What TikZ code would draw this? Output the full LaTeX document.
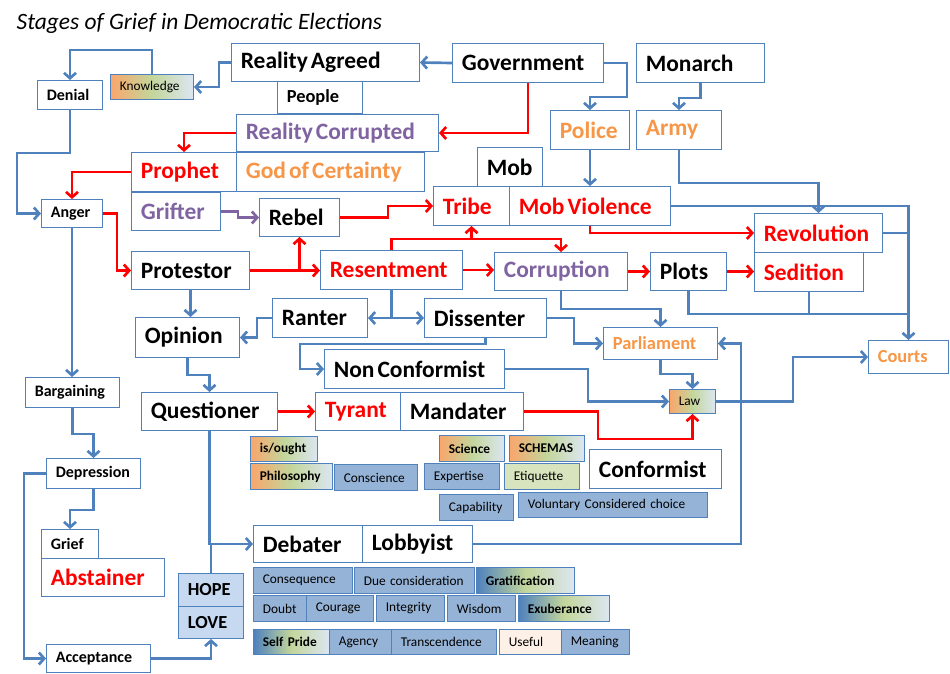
\documentclass[tikz,border=0pt]{standalone}
\usepackage{fontspec}
\setmainfont{Carlito}
\usepackage{xcolor}
\usepackage{tikz}
\usetikzlibrary{arrows.meta,positioning,calc}

\definecolor{edge}{HTML}{4F81BD}
\definecolor{grred}{HTML}{FF0000}
\definecolor{grpurple}{HTML}{8064A2}
\definecolor{grorange}{HTML}{F79646}
\definecolor{cellblue}{HTML}{95B3D7}
\definecolor{hopeblue}{HTML}{C6D9F1}
\definecolor{palepeach}{HTML}{FDF1E7}
\definecolor{shorange}{HTML}{F9A66C}
\definecolor{shgreen}{HTML}{C3D69B}
\definecolor{shlight}{HTML}{DCE6F2}
\definecolor{shblue}{HTML}{4F81BD}
\definecolor{leafgreen}{HTML}{D7E4BD}
\newcommand\tightwords{\spaceskip=0.13em\relax}

\begin{document}
\begin{tikzpicture}[
    x=0.75pt, y=-0.75pt,
    box/.style={rectangle, draw=edge, line width=0.75pt, fill=white, anchor=north west, inner xsep=7pt, inner ysep=0pt},
    wh/.style 2 args={text width={0.75pt*#1-14pt}, minimum height={0.75pt*#2}},
    bigtext/.style={font=\fontsize{17.6}{20}\selectfont\bfseries, execute at begin node=\tightwords},
    midtext/.style={font=\fontsize{13.8}{16}\selectfont\bfseries},
    smalltext/.style={font=\fontsize{12}{14}\selectfont\bfseries},
    tinytext/.style={font=\fontsize{10}{12}\selectfont},
    tinybold/.style={font=\fontsize{10}{12}\selectfont\bfseries},
    cell/.style={box, tinytext, fill=cellblue},
    warm/.style={box, left color=shorange, right color=shlight, middle color=shgreen},
    cool/.style={box, left color=shblue, right color=shlight, middle color=shgreen},
    line/.style={draw=edge, line width=2pt, -{Straight Barb[length=4pt,width=9pt]}},
    redline/.style={line, draw=grred},
    purpleline/.style={line, draw=grpurple},
    plain/.style={draw=edge, line width=2pt}
]
\useasboundingbox (0,0) rectangle (950,674);

\node [anchor=base west, font=\fontsize{17.6}{20}\selectfont\itshape] (title) at (12,30) {Stages of Grief in Democratic Elections};

% top rows
\node [box, bigtext, wh={188}{38}] (ra) at (231,43) {Reality Agreed};
\node [box, midtext, wh={85}{32}] (people) at (277,81) {People};
\node [box, bigtext, wh={151}{39}] (gov) at (452,43) {Government};
\node [box, bigtext, wh={128}{39}] (monarch) at (636,43) {Monarch};
\node [warm, tinytext, wh={83}{25}] (knowledge) at (110,74) {Knowledge};
\node [box, smalltext, wh={65}{29}] (denial) at (37,80) {Denial};
\node [box, bigtext, text=grpurple, wh={202}{37}] (rc) at (236,114) {Reality Corrupted};
\node [box, bigtext, text=grred, wh={105}{39}] (prophet) at (131,152) {Prophet};
\node [box, bigtext, text=grorange, wh={188}{39}] (god) at (236,152) {God of Certainty};
\node [box, bigtext, text=grpurple, wh={89}{38}] (grifter) at (131,192) {Grifter};
\node [box, bigtext, wh={80}{38}] (rebel) at (259,198) {Rebel};
\node [box, smalltext, wh={61}{28}] (anger) at (41,199) {Anger};
\node [box, bigtext, text=grorange, wh={79}{39}] (police) at (550,110) {Police};
\node [box, bigtext, text=grorange, wh={85}{39}] (army) at (636,110) {Army};
\node [box, bigtext, wh={65}{39}] (mob) at (477,147) {Mob};
\node [box, bigtext, text=grred, wh={76}{39}] (tribe) at (433,186) {Tribe};
\node [box, bigtext, text=grred, wh={161}{39}] (mv) at (509,186) {Mob Violence};
\node [box, bigtext, text=grred, wh={128}{39}] (rev) at (754,213) {Revolution};
\node [box, bigtext, text=grred, wh={109}{39}] (sedition) at (754,252) {Sedition};

% middle rows
\node [box, bigtext, wh={76}{38}] (plots) at (650,252) {Plots};
\node [box, bigtext, text=grpurple, wh={133}{38}] (corruption) at (494,252) {Corruption};
\node [box, bigtext, text=grred, wh={142}{39}] (resentment) at (320,250) {Resentment};
\node [box, bigtext, wh={118}{38}] (protestor) at (131,251) {Protestor};
\node [box, bigtext, wh={95}{39}] (ranter) at (272,298) {Ranter};
\node [box, bigtext, wh={122}{39}] (dissenter) at (424,298) {Dissenter};
\node [box, bigtext, wh={104}{40}] (opinion) at (135,317) {Opinion};
\node [box, bigtext, wh={180}{39}] (nc) at (324,349) {Non Conformist};
\node [box, midtext, text=grorange, wh={114}{32}] (parliament) at (603,327) {Parliament};
\node [warm, tinytext, wh={46}{24}] (law) at (669,389) {Law};
\node [box, midtext, text=grorange, wh={80}{33}] (courts) at (868,340) {Courts};
\node [box, smalltext, wh={94}{30}] (bargaining) at (25,377) {Bargaining};
\node [box, bigtext, wh={136}{38}] (questioner) at (141,392) {Questioner};
\node [box, bigtext, text=grred, wh={85}{38}] (tyrant) at (315,392) {Tyrant};
\node [box, bigtext, wh={123}{38}] (mandater) at (400,392) {Mandater};

% small cells
\node [warm, tinybold, wh={67}{25}] (isought) at (250,436) {is/ought};
\node [warm, tinybold, wh={82}{26}] (philosophy) at (250,463) {Philosophy};
\node [cell, wh={83}{26}] (conscience) at (334,464) {Conscience};
\node [warm, tinybold, wh={65}{26}] (science) at (439,435) {Science};
\node [warm, tinybold, wh={75}{26}] (schemas) at (509,435) {SCHEMAS};
\node [cell, wh={75}{26}] (expertise) at (424,463) {Expertise};
\node [box, tinytext, fill=leafgreen, wh={75}{26}] (etiquette) at (504,463) {Etiquette};
\node [box, bigtext, wh={132}{39}] (conformist) at (589,449) {Conformist};
\node [cell, wh={74}{26}] (capability) at (439,494) {Capability};
\node [cell, wh={189}{25}] (choice) at (518,492) {Voluntary Considered choice};

% bottom left
\node [box, smalltext, wh={94}{30}] (depression) at (46,458) {Depression};
\node [box, smalltext, wh={57}{29}] (grief) at (41,529) {Grief};
\node [box, bigtext, text=grred, wh={123}{38}] (abstainer) at (41,558) {Abstainer};
\node [box, smalltext, wh={104}{28}] (acceptance) at (46,644) {Acceptance};
\node [box, midtext, fill=hopeblue, wh={65}{33}] (hope) at (178,573) {HOPE};
\node [box, midtext, fill=hopeblue, wh={65}{32}] (love) at (178,606) {LOVE};
\node [box, bigtext, wh={109}{37}] (debater) at (253,525) {Debater};
\node [box, bigtext, wh={110}{37}] (lobbyist) at (362,525) {Lobbyist};
\node [cell, wh={99}{26}] (consequence) at (253,567) {Consequence};
\node [cell, wh={120}{26}] (duecons) at (354,567) {Due consideration};
\node [cool, tinybold, wh={98}{26}] (gratification) at (476,567) {Gratification};
\node [cell, wh={53}{26}] (doubt) at (253,595) {Doubt};
\node [cell, wh={67}{26}] (courage) at (306,595) {Courage};
\node [cell, wh={68}{26}] (integrity) at (376,595) {Integrity};
\node [cell, wh={68}{26}] (wisdom) at (447,595) {Wisdom};
\node [cool, tinybold, wh={91}{26}] (exuberance) at (518,595) {Exuberance};
\node [cool, tinybold, wh={76}{25}] (selfpride) at (253,629) {Self Pride};
\node [cell, wh={62}{25}] (agency) at (329,629) {Agency};
\node [cell, wh={105}{25}] (transcendence) at (391,629) {Transcendence};
\node [box, tinytext, fill=palepeach, wh={62}{25}] (useful) at (499,629) {Useful};
\node [cell, wh={68}{25}] (meaning) at (561,629) {Meaning};

\coordinate (merge) at (courts.north |- 0,314);

% blue connectors
\path [line] (gov.west) -- (ra.east);
\path [line] (ra.west) -- ++(-12,0) |- (knowledge.east);
\path [line] (knowledge.north) -- ++(0,-24) -| (denial.north);
\path [line] (denial.south) |- (17,153) |- (anger.west);
\path [line] (gov.east) -| (627,97) -| (police.north);
\path [line] (monarch.south) -- ++(0,15) -| (army.north);
\path [line] (police.south) -- (police.south |- mv.north);
\path [line] (army.south) -- ++(0,33) -| (rev.north);
\path [line] (mv.east) -| (courts.north);
\path [plain] (rev.east) -- (rev.east -| courts.north);
\path [plain] (plots.south) |- (merge);
\path [plain] (sedition.south) |- (merge);
\path [line] (resentment.south) |- (ranter.east);
\path [line] (resentment.south) |- (dissenter.west);
\path [line] (ranter.west) -- ++(-15,0) |- (opinion.east);
\path [line] (protestor.south) -- (protestor.south |- opinion.north);
\path [line] (opinion.south) -- ++(0,17) -| (questioner.north);
\path [line] (questioner.south) |- (debater.west);
\path [plain] (hope.north) -- (hope.north |- debater.west);
\path [line] (acceptance.east) -| (love.south);
\path [line] (depression.west) -- ++(-22,0) |- (acceptance.west);
\path [line] (depression.south) -- ++(0,21) -| (grief.north);
\path [line] (bargaining.south) -- ++(0,26) -| (depression.north);
\path [line] (anger.south) -- (anger.south |- bargaining.north);
\path [line] (dissenter.south) -- ++(0,6) -| ($(nc.west)+(-24,0)$) -- (nc.west);
\path [line] (dissenter.east) -- ++(27,0) |- (parliament.west);
\path [line] (corruption.south) -- ++(0,18) -| (parliament.north);
\path [line] (nc.east) -- ++(83,0) |- (law.west);
\path [line] (parliament.south) -- ++(0,14) -| (law.north);
\path [line] (law.east) -- ++(77,0) |- (courts.west);
\path [line] (lobbyist.east) -- ++(268,0) |- (parliament.east);

% red connectors
\path [redline] (gov.south) |- (rc.east);
\path [redline] (rc.west) -| (prophet.north);
\path [redline] (prophet.west) -| (anger.north);
\path [redline] (anger.east) -- ++(14,0) |- (protestor.west);
\path [redline] (mv.south) |- (rev.west);
\path [redline] (rebel.east) -- ++(48,0) |- (tribe.west);
\path [redline] (protestor.east) -- (protestor.east -| resentment.west);
\path [redline] (protestor.east) -| (rebel.south);
\path [redline] (resentment.north) -- ++(0,-11) -| (corruption.north);
\path [redline] (resentment.north) -- ++(0,-11) -| (tribe.south);
\path [redline] (resentment.east) -- (resentment.east -| corruption.west);
\path [redline] (corruption.east) -- (plots.west);
\path [redline] (plots.east) -- (plots.east -| sedition.west);
\path [redline] (questioner.east) -- (tyrant.west);
\path [redline] (mandater.east) -- ++(74,0) |- ($(law.south)+(0,25)$) -- (law.south);
\path [purpleline] (grifter.east) -- ++(17,0) |- (rebel.west);

\end{tikzpicture}
\end{document}
